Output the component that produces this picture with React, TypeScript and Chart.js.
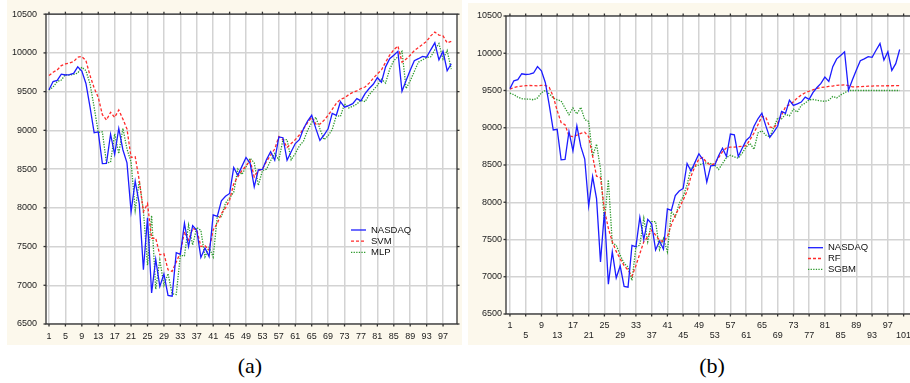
import { useEffect, useRef } from "react";
import { Chart, registerables } from "chart.js";

Chart.register(...registerables);

// Weekly NASDAQ closing index and the model forecasts (index 0 = week 1)
const nasdaq = [
  9525, 9630, 9645, 9725, 9715, 9720, 9735, 9820, 9765, 9605,
  9300, 8970, 8980, 8570, 8575, 8950, 8690, 9025, 8750, 8580,
  7950, 8345, 8050, 7200, 7870, 6900, 7335, 6985, 7145, 6870,
  6860, 7420, 7400, 7800, 7500, 7770, 7710, 7360, 7480, 7370,
  7910, 7890, 8090, 8150, 8185, 8520, 8420, 8535, 8650, 8575,
  8270, 8490, 8495, 8625, 8725, 8615, 8915, 8905, 8615, 8725,
  8830, 8880, 9020, 9120, 9195, 9025, 8870, 8940, 9020, 9220,
  9195, 9370, 9300, 9320, 9345, 9410, 9380, 9475, 9540, 9595,
  9680, 9622, 9820, 9925, 9970, 10020, 9505, 9645, 9775, 9900,
  9925, 9955, 9945, 10040, 10130, 9910, 10020, 9770, 9860, 10050,
];

const svm = [
  9707, 9750, 9780, 9836, 9858, 9870, 9888, 9944, 9953, 9900,
  9707, 9547, 9427, 9203, 9134, 9233, 9168, 9263, 9146, 9017,
  8650, 8660, 8350, 7950, 8055, 7607, 7607, 7393, 7406, 7200,
  7180, 7300, 7420, 7690, 7585, 7735, 7715, 7500, 7510, 7457,
  7715, 7800, 7927, 8000, 8100, 8310, 8400, 8480, 8540, 8610,
  8400, 8480, 8500, 8600, 8680, 8760, 8920, 8880, 8780, 8830,
  8880, 8940, 9020, 9100, 9170, 9080, 9080, 9130, 9195, 9270,
  9350, 9400, 9420, 9460, 9490, 9510, 9540, 9560, 9610, 9670,
  9730, 9780, 9880, 9970, 10040, 10090, 9880, 9920, 9970, 10030,
  10070, 10110, 10150, 10220, 10270, 10230, 10220, 10130, 10150,
];

const mlp = [
  9520, 9560, 9630, 9650, 9720, 9712, 9722, 9740, 9815, 9770,
  9600, 9300, 8975, 8980, 8580, 8590, 8955, 8700, 9025, 8760,
  8590, 7970, 8350, 7960, 7260, 7900, 6950, 7325, 7000, 7150,
  6890, 6880, 7385, 7380, 7780, 7520, 7745, 7710, 7365, 7490,
  7365, 7885, 7885, 8060, 8130, 8200, 8500, 8430, 8530, 8640,
  8580, 8290, 8480, 8500, 8610, 8700, 8620, 8880, 8880, 8620,
  8700, 8800, 8860, 9000, 9100, 9170, 9020, 8880, 8930, 9010,
  9190, 9180, 9340, 9290, 9310, 9340, 9390, 9370, 9460, 9520,
  9580, 9660, 9610, 9790, 9900, 9950, 10020, 9540, 9640, 9760,
  9880, 9910, 9940, 9950, 10040, 10120, 9920, 10030, 9790,
];

const rf = [
  9518, 9540, 9552, 9560, 9565, 9567, 9566, 9563, 9568, 9568,
  9540, 9420, 9230, 9070, 9040, 8890, 8880, 8900, 8925, 8940,
  8880, 8620, 8350, 8330, 7900, 7650, 7470, 7340, 7240, 7150,
  7090, 7010, 7150, 7310, 7470, 7535, 7625, 7560, 7490, 7470,
  7540, 7700, 7830, 7920, 8030, 8150, 8350, 8480, 8580, 8600,
  8530, 8500, 8520, 8600, 8680, 8730, 8740, 8740, 8745, 8750,
  8760, 8840, 8930, 9040, 9150, 9140, 9010, 9000, 9060, 9170,
  9280, 9310, 9350, 9400, 9440, 9470, 9490, 9510, 9530, 9540,
  9545, 9555, 9560, 9570, 9572, 9575, 9565, 9550, 9548, 9552,
  9555, 9558, 9560, 9562, 9563, 9563, 9564, 9564, 9565, 9565,
];

const sgbm = [
  9465, 9445, 9410, 9390, 9385, 9385, 9375, 9400, 9470, 9500,
  9455, 9400, 9375, 9360, 9265, 9175, 9265, 9185, 9275, 9110,
  9085, 8620, 8780, 8450, 7740, 8300, 7450, 7425, 7290, 7180,
  7130, 6950, 7400, 7425, 7785, 7470, 7740, 7740, 7365, 7515,
  7335, 7875, 7805, 7985, 8075, 8235, 8460, 8480, 8500, 8520,
  8530, 8520, 8500, 8440, 8520, 8600, 8630, 8610, 8590, 8660,
  8740, 8790, 8710, 8930, 8960, 8900, 8880, 9000, 9130, 9120,
  9180, 9160, 9250, 9210, 9300, 9330, 9375, 9380, 9370, 9360,
  9355, 9370, 9420, 9400, 9440, 9470, 9500, 9500, 9500, 9500,
  9500, 9500, 9500, 9500, 9500, 9500, 9500, 9500, 9500, 9500,
];

const yTicks = [6500, 7000, 7500, 8000, 8500, 9000, 9500, 10000, 10500];
const xTicksA = [1, 5, 9, 13, 17, 21, 25, 29, 33, 37, 41, 45, 49, 53, 57, 61, 65, 69, 73, 77, 81, 85, 89, 93, 97];
const xTicksB = [1, 5, 9, 13, 17, 21, 25, 29, 33, 37, 41, 45, 49, 53, 57, 61, 65, 69, 73, 77, 81, 85, 89, 93, 97, 101];

const FONT = 'Arial, "Liberation Sans", Helvetica, sans-serif';
const CREAM = "#fcf8ec";

const toPoints = (values: number[]) => values.map((v, i) => ({ x: i + 1, y: v }));

const solidBlue = { borderColor: "#1c1cff", borderWidth: 1.3, borderDash: [] as number[] };
const dashedRed = { borderColor: "#ff2b2b", borderWidth: 1.3, borderDash: [3, 2] };
const dottedGreen = { borderColor: "#2e9a2e", borderWidth: 1.3, borderDash: [1.3, 1.3] };

function series(label: string, values: number[], style: any) {
  return {
    label,
    data: toPoints(values),
    ...style,
    pointRadius: 0,
    tension: 0,
    fill: false,
  };
}

// Cream panel, white plot area, dark frame with outward ticks, in-plot legend
const panelPlugin = {
  id: "panel",
  beforeDraw(chart: any) {
    const { ctx, width, height, chartArea: a } = chart;
    ctx.save();
    ctx.fillStyle = CREAM;
    ctx.fillRect(0, 0, width, height);
    ctx.fillStyle = "#ffffff";
    ctx.fillRect(a.left, a.top, a.right - a.left, a.bottom - a.top);
    ctx.restore();
  },
  afterDatasetsDraw(chart: any, _args: any, opts: any) {
    const { ctx, chartArea: a, scales } = chart;
    const line = (x1: number, y1: number, x2: number, y2: number) => {
      ctx.beginPath();
      ctx.moveTo(x1, y1);
      ctx.lineTo(x2, y2);
      ctx.stroke();
    };
    ctx.save();
    ctx.strokeStyle = "#333333";
    ctx.lineWidth = 1.3;
    ctx.setLineDash([]);
    ctx.strokeRect(a.left, a.top, a.right - a.left, a.bottom - a.top);
    const t = 2.5;
    scales.x.ticks.forEach((tk: any) => {
      const px = scales.x.getPixelForValue(tk.value);
      line(px, a.bottom, px, a.bottom + t);
      line(px, a.top, px, a.top - t);
    });
    scales.y.ticks.forEach((tk: any) => {
      const py = scales.y.getPixelForValue(tk.value);
      line(a.left - t, py, a.left, py);
      line(a.right, py, a.right + t, py);
    });

    const lg = opts.legend;
    if (lg) {
      ctx.font = `9.5px ${FONT}`;
      ctx.textBaseline = "middle";
      ctx.textAlign = "left";
      chart.data.datasets.forEach((ds: any, i: number) => {
        const y = lg.y + i * lg.step;
        ctx.strokeStyle = ds.borderColor;
        ctx.lineWidth = ds.borderWidth;
        ctx.setLineDash(ds.borderDash || []);
        line(lg.x, y, lg.x + 15, y);
        ctx.setLineDash([]);
        ctx.fillStyle = "#111111";
        ctx.fillText(ds.label, lg.x + 20, y);
      });
    }
    ctx.restore();
  },
};

function makeConfig(p: {
  datasets: any[];
  xMin: number;
  xMax: number;
  xTicks: number[];
  stagger: boolean;
  yAxisWidth: number;
  xAxisHeight: number;
  top: number;
  right: number;
  yPad: number;
  xPad: number;
  legend: { x: number; y: number; step: number };
}): any {
  const tickFont = { family: FONT, size: 9, lineHeight: 1.15 };
  return {
    type: "line",
    data: { datasets: p.datasets },
    plugins: [panelPlugin],
    options: {
      responsive: false,
      animation: false,
      devicePixelRatio: 1,
      layout: { padding: { left: 0, top: p.top, right: p.right, bottom: 0 } },
      plugins: {
        legend: { display: false },
        tooltip: { enabled: false },
        panel: { legend: p.legend },
      },
      scales: {
        x: {
          type: "linear",
          min: p.xMin,
          max: p.xMax,
          afterBuildTicks: (s: any) => {
            s.ticks = p.xTicks.map((v) => ({ value: v }));
          },
          afterFit: (s: any) => {
            s.height = p.xAxisHeight;
          },
          grid: { color: "#d3d3d3", lineWidth: 1.5, drawTicks: false },
          border: { display: false },
          ticks: {
            autoSkip: false,
            maxRotation: 0,
            minRotation: 0,
            padding: p.xPad,
            color: "#222222",
            font: tickFont,
            callback: (v: any, i: number) =>
              p.stagger ? (i % 2 === 0 ? [String(v), ""] : ["", String(v)]) : String(v),
          },
        },
        y: {
          type: "linear",
          min: 6500,
          max: 10500,
          afterBuildTicks: (s: any) => {
            s.ticks = yTicks.map((v) => ({ value: v }));
          },
          afterFit: (s: any) => {
            s.width = p.yAxisWidth;
          },
          grid: { color: "#d3d3d3", lineWidth: 1.5, drawTicks: false },
          border: { display: false },
          ticks: {
            padding: p.yPad,
            color: "#222222",
            font: tickFont,
            callback: (v: any) => String(v),
          },
        },
      },
    },
  };
}

function LineChart({ width, height, config }: { width: number; height: number; config: () => any }) {
  const ref = useRef<HTMLCanvasElement>(null);
  useEffect(() => {
    const chart = new Chart(ref.current as HTMLCanvasElement, config());
    return () => chart.destroy();
  }, []);
  return <canvas ref={ref} width={width} height={height} style={{ display: "block", width, height }} />;
}

const configA = () =>
  makeConfig({
    datasets: [
      series("NASDAQ", nasdaq.slice(0, 99), solidBlue),
      series("SVM", svm, dashedRed),
      series("MLP", mlp, dottedGreen),
    ],
    xMin: 0.27,
    xMax: 100.4,
    xTicks: xTicksA,
    stagger: false,
    yAxisWidth: 39,
    xAxisHeight: 21,
    top: 14,
    right: 5,
    yPad: 9,
    xPad: 7,
    legend: { x: 344, y: 230, step: 11.2 },
  });

const configB = () =>
  makeConfig({
    datasets: [
      series("NASDAQ", nasdaq, solidBlue),
      series("RF", rf, dashedRed),
      series("SGBM", sgbm, dottedGreen),
    ],
    xMin: 0,
    xMax: 104.4,
    xTicks: xTicksB,
    stagger: true,
    yAxisWidth: 38,
    xAxisHeight: 31,
    top: 13,
    right: 6,
    yPad: 4,
    xPad: 6,
    legend: { x: 340, y: 244.7, step: 10.8 },
  });

const captionStyle: any = {
  position: "absolute",
  top: 355,
  width: 100,
  textAlign: "center",
  font: '22px "Liberation Serif", "Times New Roman", Times, serif',
  lineHeight: "22px",
  color: "#000",
};

export default function App() {
  return (
    <div
      style={{
        position: "fixed",
        left: 0,
        top: 0,
        width: 910,
        height: 383,
        overflow: "hidden",
        background: "#ffffff",
      }}
    >
      <div style={{ position: "absolute", left: 7, top: 0 }}>
        <LineChart width={455} height={345} config={configA} />
      </div>
      <div style={{ position: "absolute", left: 468, top: 3 }}>
        <LineChart width={455} height={342} config={configB} />
      </div>
      <div style={{ ...captionStyle, left: 200 }}>(a)</div>
      <div style={{ ...captionStyle, left: 662 }}>(b)</div>
    </div>
  );
}
